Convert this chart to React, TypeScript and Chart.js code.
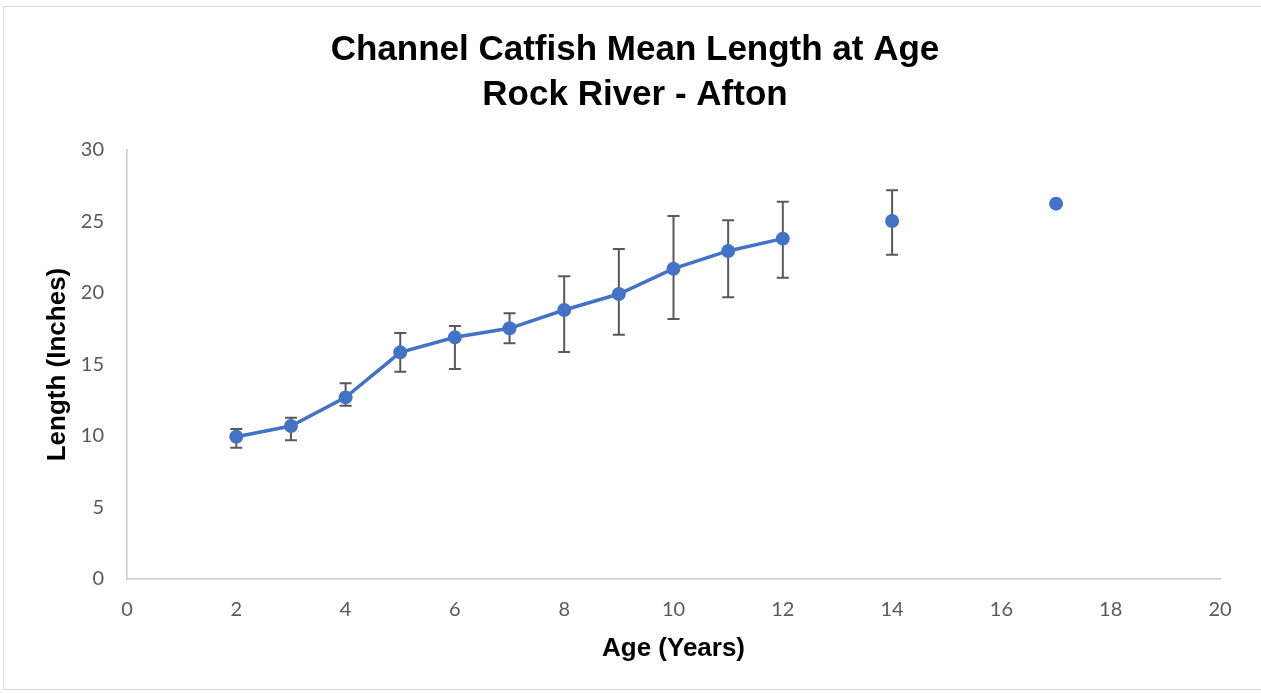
import React, { useEffect, useRef } from "react";
import { Chart, registerables } from "chart.js";

Chart.register(...registerables);

const titleLines = ["Channel Catfish Mean Length at Age", "Rock River - Afton"];
const xAxisTitle = "Age (Years)";
const yAxisTitle = "Length (Inches)";

const ages = [2, 3, 4, 5, 6, 7, 8, 9, 10, 11, 12];
const meanLength = [9.95, 10.7, 12.7, 15.85, 16.9, 17.53, 18.81, 19.93, 21.7, 22.94, 23.8];
const errHigh = [10.49, 11.28, 13.69, 17.2, 17.69, 18.58, 21.17, 23.08, 25.38, 25.08, 26.38];
const errLow = [9.18, 9.7, 12.12, 14.5, 14.69, 16.48, 15.87, 17.08, 18.18, 19.7, 21.07];

const olderAges = [14, 17];
const olderMean = [25.03, 26.25];
const olderHigh: (number | null)[] = [27.18, null];
const olderLow: (number | null)[] = [22.68, null];

const xTicks = [0, 2, 4, 6, 8, 10, 12, 14, 16, 18, 20];
const yTicks = [0, 5, 10, 15, 20, 25, 30];

const BLUE = "#4472C4";
const TICK_FONT = "Lato, 'Open Sans', sans-serif";
const TITLE_FONT = "'Liberation Sans Narrow', 'Liberation Sans', sans-serif";

const errorBars = [
  { high: errHigh, low: errLow },
  { high: olderHigh, low: olderLow },
];

const errorBarPlugin = {
  id: "errorBars",
  beforeDatasetsDraw(chart: any) {
    const ctx = chart.ctx;
    const xs = chart.scales.x;
    const ys = chart.scales.y;
    ctx.save();
    ctx.strokeStyle = "#595959";
    ctx.lineWidth = 2;
    chart.data.datasets.forEach((ds: any, di: number) => {
      const eb = errorBars[di];
      if (!eb) return;
      ds.data.forEach((p: any, i: number) => {
        const hi = eb.high[i];
        const lo = eb.low[i];
        if (hi == null || lo == null) return;
        const px = xs.getPixelForValue(p.x);
        const yh = ys.getPixelForValue(hi);
        const yl = ys.getPixelForValue(lo);
        ctx.beginPath();
        ctx.moveTo(px, yh);
        ctx.lineTo(px, yl);
        ctx.moveTo(px - 6, yh);
        ctx.lineTo(px + 6, yh);
        ctx.moveTo(px - 6, yl);
        ctx.lineTo(px + 6, yl);
        ctx.stroke();
      });
    });
    ctx.restore();
  },
};

export default function App() {
  const canvasRef = useRef<HTMLCanvasElement>(null);

  useEffect(() => {
    if (!canvasRef.current) return;
    const chart = new Chart(canvasRef.current, {
      type: "scatter",
      data: {
        datasets: [
          {
            data: ages.map((a, i) => ({ x: a, y: meanLength[i] })),
            showLine: true,
            borderColor: BLUE,
            backgroundColor: BLUE,
            borderWidth: 3.5,
            pointRadius: 7,
            pointBorderWidth: 0,
            pointBackgroundColor: BLUE,
          },
          {
            data: olderAges.map((a, i) => ({ x: a, y: olderMean[i] })),
            showLine: false,
            borderColor: BLUE,
            backgroundColor: BLUE,
            pointRadius: 7,
            pointBorderWidth: 0,
            pointBackgroundColor: BLUE,
          },
        ],
      },
      options: {
        animation: false,
        responsive: true,
        maintainAspectRatio: false,
        layout: { padding: { left: 50, right: 41, top: 0, bottom: 0 } },
        plugins: {
          legend: { display: false },
          tooltip: { enabled: false },
          title: {
            display: true,
            text: titleLines,
            color: "#000000",
            font: { family: TITLE_FONT, size: 35, weight: "bold", lineHeight: 45 / 35 },
            padding: { top: 27.5, bottom: 32.5 },
          },
        },
        scales: {
          x: {
            type: "linear",
            min: 0,
            max: 20,
            afterFit: (s: any) => {
              s.height = 115;
            },
            afterBuildTicks: (s: any) => {
              s.ticks = xTicks.map((v) => ({ value: v }));
            },
            grid: { display: false, drawTicks: false },
            border: { display: true, color: "#c8c8c8", width: 1.5 },
            ticks: {
              color: "#595959",
              font: { family: TICK_FONT, size: 20 },
              padding: 19,
              maxRotation: 0,
            },
            title: {
              display: true,
              text: xAxisTitle,
              color: "#000000",
              font: { family: TITLE_FONT, size: 26, weight: "bold" },
              padding: { top: 0, bottom: 30 },
            },
          },
          y: {
            type: "linear",
            min: 0,
            max: 30,
            afterFit: (s: any) => {
              s.width = 77;
            },
            afterBuildTicks: (s: any) => {
              s.ticks = yTicks.map((v) => ({ value: v }));
            },
            grid: { display: false, drawTicks: false },
            border: { display: true, color: "#c8c8c8", width: 1.5 },
            ticks: {
              color: "#595959",
              font: { family: TICK_FONT, size: 20 },
              padding: 23,
            },
            title: {
              display: true,
              text: yAxisTitle,
              color: "#000000",
              font: { family: TITLE_FONT, size: 26, weight: "bold" },
              padding: { top: -8, bottom: 0 },
            },
          },
        },
      },
      plugins: [errorBarPlugin],
    } as any);
    return () => chart.destroy();
  }, []);

  return (
    <div style={{ position: "fixed", left: 0, top: 0, width: 1261, height: 694, background: "#ffffff" }}>
      <div
        style={{
          position: "absolute",
          left: 3,
          top: 6,
          width: 1270,
          height: 684,
          border: "1px solid #d9d9d9",
          boxSizing: "border-box",
        }}
      />
      <canvas ref={canvasRef} style={{ position: "absolute", left: 0, top: 0 }} />
    </div>
  );
}
